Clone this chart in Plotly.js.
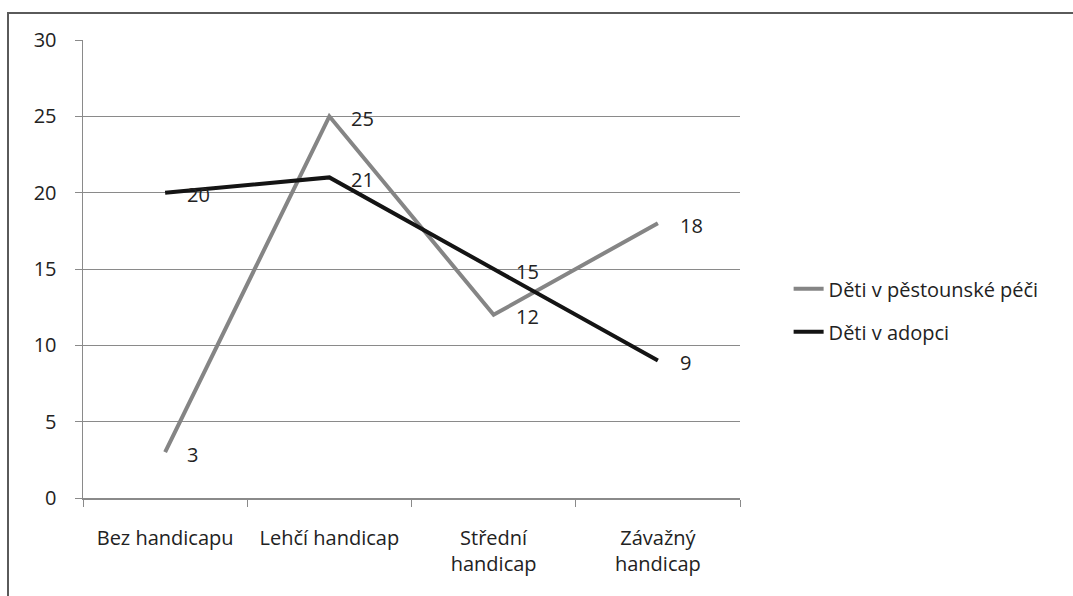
<!DOCTYPE html>
<html>
<head>
<meta charset="utf-8">
<script src="https://cdn.plot.ly/plotly-3.0.1.min.js"></script>
<style>
  html, body { margin: 0; padding: 0; background: #fff; }
  #wrap { position: relative; width: 1073px; height: 596px; }
  #chart { width: 1073px; height: 596px; }
  #frame { position: absolute; left: 7px; top: 12px; right: -10px; bottom: -10px;
           border-left: 2px solid #5a5a5a; border-top: 2px solid #5a5a5a; pointer-events: none; }
</style>
</head>
<body>
<div id="wrap">
  <div id="chart"></div>
  <div id="frame"></div>
</div>
<script>
const categories = ["Bez handicapu", "Lehčí handicap", "Střední<br>handicap", "Závažný<br>handicap"];
const fosterName = "Děti v pěstounské péči";
const fosterValues = [3, 25, 12, 18];
const adoptName = "Děti v adopci";
const adoptValues = [20, 21, 15, 9];
const yTicks = [0, 5, 10, 15, 20, 25, 30];

const font = { family: "Open Sans, sans-serif", size: 20, color: "#222" };

const traces = [
  { x: categories, y: fosterValues, name: fosterName, type: "scatter", mode: "lines",
    line: { color: "#858585", width: 4 }, legendgroup: "a" },
  { x: categories, y: adoptValues, name: adoptName, type: "scatter", mode: "lines",
    line: { color: "#141414", width: 4 }, legendgroup: "b" }
];

const annotations = [];
function addLabels(vals) {
  vals.forEach((v, i) => {
    annotations.push({ x: categories[i], y: v, xref: "x", yref: "y", text: String(v),
      showarrow: false, xanchor: "left", yanchor: "middle", xshift: 20, yshift: -2,
      font: font });
  });
}
addLabels(fosterValues);
addLabels(adoptValues);

const layout = {
  width: 1073, height: 596,
  margin: { l: 83, r: 333, t: 40, b: 98 },
  paper_bgcolor: "#fff", plot_bgcolor: "#fff",
  font: font,
  showlegend: true,
  legend: { x: 1.074, y: 0.41, yanchor: "middle", xanchor: "left", font: font,
            traceorder: "grouped", tracegroupgap: 14, bgcolor: "rgba(0,0,0,0)" },
  xaxis: { type: "category", tickson: "boundaries", ticks: "outside", ticklen: 7,
           tickcolor: "#8a8a8a", showline: true, linecolor: "#8a8a8a", linewidth: 1.5,
           showgrid: false, zeroline: false, tickfont: font, ticklabelstandoff: 21,
           range: [-0.5, 3.5] },
  yaxis: { range: [0, 30], tickvals: yTicks, ticks: "outside", ticklen: 7,
           tickcolor: "#8a8a8a", showline: true, linecolor: "#8a8a8a", linewidth: 1.5,
           showgrid: true, gridcolor: "#8a8a8a", gridwidth: 1, zeroline: false,
           tickfont: font, ticklabelstandoff: 14 },
  annotations: annotations
};

Plotly.newPlot("chart", traces, layout, { displayModeBar: false, staticPlot: true });
</script>
</body>
</html>
